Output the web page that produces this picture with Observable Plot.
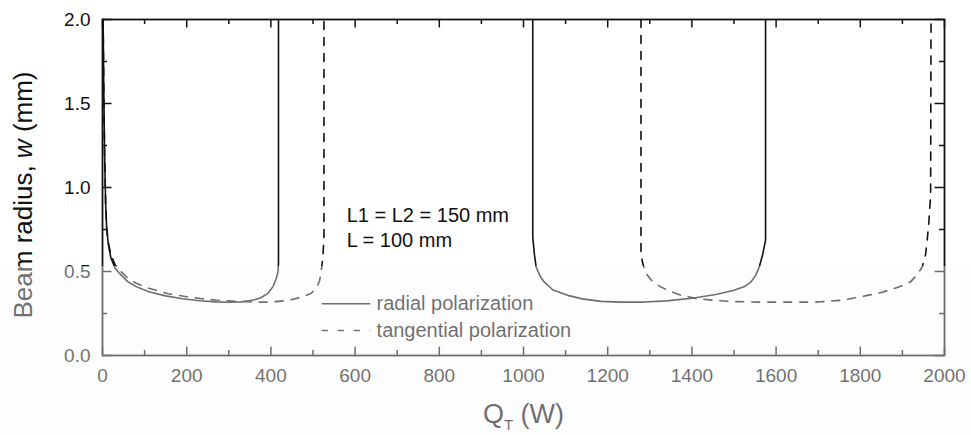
<!DOCTYPE html>
<html>
<head>
<meta charset="utf-8">
<script src="https://cdn.jsdelivr.net/npm/d3@7"></script>
<script src="https://cdn.jsdelivr.net/npm/@observablehq/plot@0.6"></script>
<style>
  html, body { margin: 0; padding: 0; background: #ffffff; }
  #wrap { position: relative; width: 971px; height: 435px; overflow: hidden; }
  #chart, #frameLayer { position: absolute; left: 0; top: 0; width: 971px; height: 435px; }
  #frameLayer { pointer-events: none; }
  #wash { position: absolute; left: 0; top: 266px; width: 971px; height: 169px; background: rgba(250,250,250,0.4); pointer-events: none; }
</style>
</head>
<body>
<div id="wrap"><div id="chart"></div><div id="frameLayer"></div><div id="wash"></div></div>
<script>
// ---- data ----
const xTicks = [0, 200, 400, 600, 800, 1000, 1200, 1400, 1600, 1800, 2000];
const xMinorTicks = [100, 300, 500, 700, 900, 1100, 1300, 1500, 1700, 1900];
const yTicks = [0, 0.5, 1.0, 1.5, 2.0];
const yMinorTicks = [0.25, 0.75, 1.25, 1.75];

// radial polarization (solid), two stable zones
const radialZone1 = [[1.5,2.0],[3,1.6],[5,1.2],[7.5,0.9],[10,0.75],[14,0.66],[20,0.58],[30,0.52],[40,0.49],[60,0.44],[80,0.41],[110,0.38],[150,0.355],[190,0.338],[230,0.326],[270,0.319],[300,0.317],[330,0.319],[355,0.328],[375,0.342],[393,0.37],[405,0.41],[413,0.46],[417,0.5],[418,0.55],[418,2.0]];
const radialZone2 = [[1022,2.0],[1022,0.706],[1026,0.6],[1030,0.527],[1040,0.47],[1049,0.438],[1070,0.39],[1105,0.358],[1140,0.337],[1184,0.322],[1230,0.318],[1287,0.318],[1340,0.325],[1405,0.342],[1460,0.365],[1500,0.388],[1525,0.41],[1540,0.437],[1552,0.48],[1560,0.527],[1568,0.6],[1575,0.687],[1575,2.0]];
// tangential polarization (dashed), two stable zones
const tangentialZone1 = [[1.5,2.0],[3,1.6],[5,1.2],[7.5,0.9],[10,0.76],[14,0.67],[20,0.6],[30,0.54],[40,0.51],[60,0.46],[80,0.43],[110,0.40],[156,0.368],[200,0.35],[235,0.338],[270,0.33],[300,0.325],[361,0.318],[400,0.318],[440,0.328],[470,0.345],[496,0.37],[510,0.41],[516,0.448],[521,0.53],[524,0.61],[526,0.7],[526,2.0]];
const tangentialZone2 = [[1279,2.0],[1279,0.607],[1283,0.55],[1291,0.488],[1305,0.445],[1326,0.408],[1350,0.38],[1374,0.358],[1410,0.34],[1453,0.328],[1500,0.321],[1560,0.318],[1640,0.318],[1698,0.318],[1760,0.33],[1817,0.358],[1850,0.375],[1880,0.398],[1905,0.42],[1919,0.438],[1935,0.48],[1947,0.527],[1955,0.6],[1959,0.687],[1963,0.8],[1967,0.95],[1968,2.0]];

const seriesNames = ["radial polarization", "tangential polarization"];
const annotationLines = ["L1 = L2 = 150 mm", "L = 100 mm"];
const yLabel = "Beam radius, w (mm)";
const xLabel = "QT (W)";

// ---- build tables ----
const toRows = (pts, series, seg) => pts.map(([q, w]) => ({q, w, series, seg}));
const radialRows = [...toRows(radialZone1, seriesNames[0], 1), ...toRows(radialZone2, seriesNames[0], 2)];
const tangentialRows = [...toRows(tangentialZone1, seriesNames[1], 1), ...toRows(tangentialZone2, seriesNames[1], 2)];

const W = 971, H = 435, mL = 102, mR = 27, mT = 19, mB = 80;
const plotH = H - mT - mB, plotW = W - mL - mR;
const xDomain = [0, 2000], yDomain = [0, 2];
const ink = "#111";
const pxToY = px => px * (yDomain[1] - yDomain[0]) / plotH;
const pxToX = px => px * (xDomain[1] - xDomain[0]) / plotW;
const major = 8.5, minor = 5;

const common = {
  width: W, height: H,
  marginLeft: mL, marginRight: mR, marginTop: mT, marginBottom: mB,
  style: {fontFamily: "'Liberation Sans', Arial, sans-serif", fontSize: "19px", color: ink, background: "transparent"}
};

// main chart: axes labels, curves, texts
const chart = Plot.plot({
  ...common,
  x: {domain: xDomain},
  y: {domain: yDomain},
  marks: [
    Plot.axisX({ticks: xTicks, tickSize: 0, tickPadding: 13, tickFormat: d => String(d), fontSize: 19, label: null}),
    Plot.axisY({ticks: yTicks, tickSize: 0, tickPadding: 12, tickFormat: d3.format(".1f"), fontSize: 19, label: null}),
    Plot.line(radialRows, {x: "q", y: "w", z: "seg", stroke: ink, strokeWidth: 1.6}),
    Plot.line(tangentialRows, {x: "q", y: "w", z: "seg", stroke: ink, strokeWidth: 1.6, strokeDasharray: "8,8"}),
    Plot.text(annotationLines, {x: 580, y: (d, i) => [0.833, 0.685][i], text: d => d, textAnchor: "start", lineAnchor: "middle", fontSize: 20, fill: ink}),
    Plot.link([seriesNames[0]], {x1: 521, x2: 636, y1: 0.308, y2: 0.308, stroke: ink, strokeWidth: 1.6}),
    Plot.link([seriesNames[1]], {x1: 521, x2: 636, y1: 0.149, y2: 0.149, stroke: ink, strokeWidth: 1.6, strokeDasharray: "6,10"}),
    Plot.text(seriesNames, {x: 651, y: (d, i) => [0.308, 0.149][i], text: d => d, textAnchor: "start", lineAnchor: "middle", fontSize: 20, fill: ink}),
    Plot.text([yLabel], {frameAnchor: "left", text: d => d, rotate: -90, dx: -79, dy: 7.5, lineAnchor: "middle", textAnchor: "middle", fontSize: 26, fill: ink}),
    Plot.text([xLabel], {frameAnchor: "bottom", text: d => d, dy: 59, lineAnchor: "middle", textAnchor: "middle", fontSize: 27, fill: ink})
  ]
});
document.getElementById("chart").appendChild(chart);

// frame layer: box and inward ticks on all four sides, same scales
const frameLayer = Plot.plot({
  ...common,
  x: {domain: xDomain, axis: null},
  y: {domain: yDomain, axis: null},
  marks: [
    Plot.ruleX(xTicks, {x: d => d, y1: yDomain[0], y2: yDomain[0] + pxToY(major), stroke: ink, strokeWidth: 1.5}),
    Plot.ruleX(xMinorTicks, {x: d => d, y1: yDomain[0], y2: yDomain[0] + pxToY(minor), stroke: ink, strokeWidth: 1.5}),
    Plot.ruleX(xTicks, {x: d => d, y1: yDomain[1], y2: yDomain[1] - pxToY(major), stroke: ink, strokeWidth: 1.5}),
    Plot.ruleX(xMinorTicks, {x: d => d, y1: yDomain[1], y2: yDomain[1] - pxToY(minor), stroke: ink, strokeWidth: 1.5}),
    Plot.ruleY(yTicks, {y: d => d, x1: xDomain[0], x2: xDomain[0] + pxToX(major + 1), stroke: ink, strokeWidth: 1.5}),
    Plot.ruleY(yMinorTicks, {y: d => d, x1: xDomain[0], x2: xDomain[0] + pxToX(minor), stroke: ink, strokeWidth: 1.5}),
    Plot.ruleY(yTicks, {y: d => d, x1: xDomain[1], x2: xDomain[1] - pxToX(major + 1), stroke: ink, strokeWidth: 1.5}),
    Plot.ruleY(yMinorTicks, {y: d => d, x1: xDomain[1], x2: xDomain[1] - pxToX(minor), stroke: ink, strokeWidth: 1.5}),
    Plot.frame({stroke: ink, strokeWidth: 1.8})
  ]
});
document.getElementById("frameLayer").appendChild(frameLayer);

// rich text: italic w, subscript T
const root = d3.select(chart);
root.selectAll("text").filter(function() { return this.textContent === yLabel; }).each(function() {
  const t = d3.select(this); t.text(null);
  t.append("tspan").text("Beam radius, ");
  t.append("tspan").attr("font-style", "italic").text("w");
  t.append("tspan").text(" (mm)");
});
root.selectAll("text").filter(function() { return this.textContent === xLabel; }).each(function() {
  const t = d3.select(this); t.text(null);
  t.append("tspan").text("Q");
  t.append("tspan").attr("font-size", 15).attr("dy", 7).text("T");
  t.append("tspan").attr("dy", -7).text(" (W)");
});
</script>
</body>
</html>
